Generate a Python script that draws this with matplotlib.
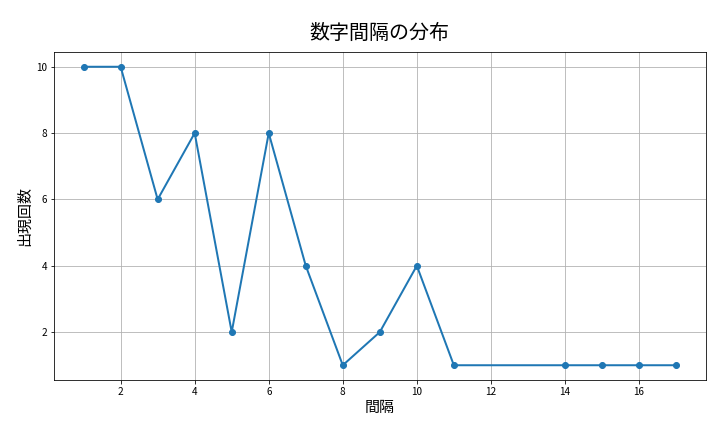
import matplotlib
matplotlib.use('Agg')
import matplotlib.pyplot as plt

plt.rcParams['font.family'] = ['Noto Sans CJK JP', 'DejaVu Sans']

intervals = [1, 2, 3, 4, 5, 6, 7, 8, 9, 10, 11, 14, 15, 16, 17]
counts = [10, 10, 6, 8, 2, 8, 4, 1, 2, 4, 1, 1, 1, 1, 1]

fig, ax = plt.subplots(figsize=(10, 6), dpi=72)
fig.subplots_adjust(left=0.075, right=0.98, top=0.88, bottom=0.12)

ax.plot(intervals, counts, marker='o', linewidth=2, markersize=6, color='#1f77b4')
ax.set_title('数字間隔の分布', fontsize=20, pad=13)
ax.set_xlabel('間隔', fontsize=15)
ax.set_ylabel('出現回数', fontsize=15)
ax.tick_params(labelsize=10)
ax.grid(True, color='#b0b0b0', linewidth=0.8)

fig.savefig('out.png', dpi=72)
